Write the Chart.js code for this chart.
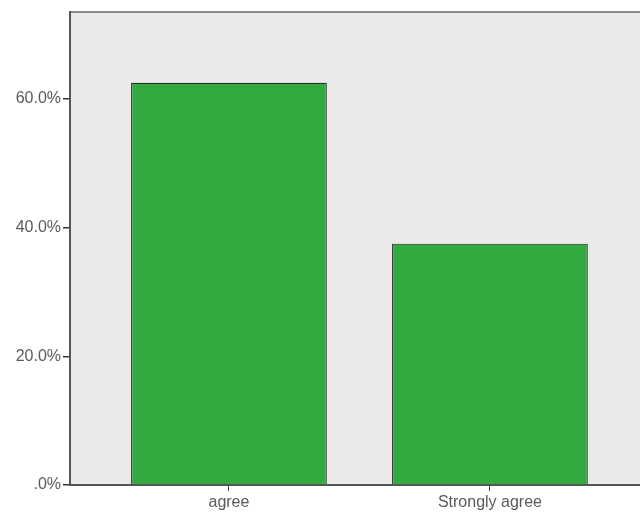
<!DOCTYPE html>
<html>
<head>
<meta charset="utf-8">
<script src="https://cdn.jsdelivr.net/npm/chart.js@4.4.1/dist/chart.umd.min.js"></script>
<style>
html,body{margin:0;padding:0;background:#fff;}
#wrap{width:640px;height:521px;position:relative;}
</style>
</head>
<body>
<div id="wrap"><canvas id="c" width="640" height="521"></canvas></div>
<script>
const categories = ['agree', 'Strongly agree'];
const percentValues = [62.5, 37.5];
const yTickValues = [0, 20, 40, 60];

const bgPlugin = {
  id: 'bgPlugin',
  beforeDraw(chart) {
    const {ctx, chartArea: a} = chart;
    ctx.save();
    ctx.fillStyle = '#EAEAEA';
    ctx.fillRect(a.left, a.top, a.right - a.left, a.bottom - a.top);
    ctx.strokeStyle = '#8a8a8a';
    ctx.lineWidth = 2;
    ctx.beginPath();
    ctx.moveTo(a.left, a.top);
    ctx.lineTo(a.right, a.top);
    ctx.stroke();
    ctx.restore();
  }
};

new Chart(document.getElementById('c'), {
  type: 'bar',
  data: {
    datasets: [{
      data: percentValues.map((v, i) => ({x: i, y: v})),
      backgroundColor: '#33AA40',
      borderColor: '#262d26',
      borderWidth: 1.2,
      barPercentage: 0.75,
      categoryPercentage: 1.0
    }]
  },
  options: {
    responsive: false,
    animation: false,
    layout: {padding: {top: 12, right: 0, left: 0, bottom: 0}},
    plugins: {legend: {display: false}, tooltip: {enabled: false}},
    scales: {
      x: {
        type: 'linear',
        min: -0.609,
        max: 1.575,
        offset: false,
        afterBuildTicks(scale) { scale.ticks = categories.map((c, i) => ({value: i})); },
        afterFit(scale) { scale.height = 36; },
        ticks: {
          callback: (v) => categories[v],
          color: '#5a5a5a',
          font: {family: '"Liberation Sans", Arial, sans-serif', size: 16},
          padding: 2,
          maxRotation: 0,
          autoSkip: false
        },
        grid: {offset: false, drawOnChartArea: false, drawTicks: true, tickLength: 6, color: '#444', lineWidth: 1},
        border: {display: true, color: '#555', width: 2}
      },
      y: {
        min: 0,
        max: 73.5,
        afterBuildTicks(scale) { scale.ticks = yTickValues.map(v => ({value: v})); },
        afterFit(scale) { scale.width = 70; },
        ticks: {
          callback: (v) => v === 0 ? '.0%' : v.toFixed(1) + '%',
          color: '#5a5a5a',
          font: {family: '"Liberation Sans", Arial, sans-serif', size: 16},
          padding: 2
        },
        grid: {drawOnChartArea: false, drawTicks: true, tickLength: 7, color: '#333', lineWidth: 1.5},
        border: {display: true, color: '#555', width: 2}
      }
    }
  },
  plugins: [bgPlugin]
});
</script>
</body>
</html>
